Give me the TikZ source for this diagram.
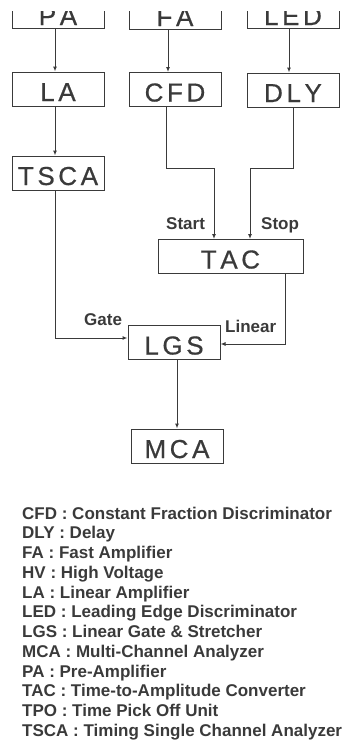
\documentclass[tikz,border=0pt]{standalone}
\usepackage{fontspec}
\setmainfont{Liberation Sans}
\newfontfamily\boxfont[WordSpace=0.5,FakeBold=0.6]{Liberation Sans}
\usetikzlibrary{positioning,arrows.meta}
\definecolor{ScanInk}{HTML}{3A3A3A}

\tikzset{
  unit/.style={
    draw=ScanInk,
    line width=1pt,
    text=ScanInk,
    minimum width=92pt,
    inner xsep=0pt,
    inner ysep=0pt,
    text height=29pt,
    text depth=5pt,
    font=\boxfont\fontsize{26}{26}\selectfont
  },
  sig/.style={draw=ScanInk, line width=1pt, -{Latex[length=5pt,width=4pt]}},
  tag/.style={text=ScanInk, inner sep=0pt, anchor=base west, font=\bfseries\fontsize{17}{17}\selectfont}
}

\begin{document}
\begin{tikzpicture}[x=1pt, y=-1pt]
  \useasboundingbox (0,0) rectangle (363,742);
  \clip (0,11) rectangle (363,742);

  \node[unit, text height=31pt, text depth=3pt] (pa) at (58,11) {P A};
  \node[unit, text height=31pt, text depth=3pt] (fa) at (175,12) {F A};
  \node[unit, text height=31pt, text depth=3pt] (led) at (293,11) {L E D};

  \node[unit] (la) at (58,89) {L A};
  \node[unit] (cfd) at (175,89.5) {C F D};
  \node[unit] (dly) at (293,90) {D L Y};
  \node[unit] (tsca) at (58,173) {T S C A};
  \node[unit, minimum width=145pt] (tac) at (230.5,256.5) {T A C};
  \node[unit] (lgs) at (174,342.5) {L G S};
  \node[unit] (mca) at (177,446) {M C A};

  \draw[sig] ([xshift=-3pt]pa.south) -- ([xshift=-3pt]la.north);
  \draw[sig] ([xshift=-7pt]fa.south) -- ([xshift=-7pt]cfd.north);
  \draw[sig] ([xshift=-4pt]led.south) -- ([xshift=-4pt]dly.north);
  \draw[sig] ([xshift=-3pt]la.south) -- ([xshift=-3pt]tsca.north);
  \draw[sig] ([xshift=-9pt]cfd.south) -- ++(0,61) -| ([xshift=-16.5pt]tac.north);
  \draw[sig] (dly.south) -- ++(0,61) -| ([xshift=19.5pt]tac.north);
  \draw[sig] ([xshift=-3pt]tsca.south) |- ([yshift=4.5pt]lgs.west);
  \draw[sig] ([xshift=54.5pt]tac.south) |- ([yshift=-1.5pt]lgs.east);
  \draw[sig] (lgs.south -| mca.north) -- (mca.north);

  \node[tag] (start) at (166,229) {Start};
  \node[tag] (stop) at (261,229) {Stop};
  \node[tag] (gate) at (84,325) {Gate};
  \node[tag] (linear) at (225,332) {Linear};

  \foreach \entry [count=\i from 0] in {
    CFD : Constant Fraction Discriminator,
    DLY : Delay,
    FA : Fast Amplifier,
    HV : High Voltage,
    LA : Linear Amplifier,
    LED : Leading Edge Discriminator,
    LGS : Linear Gate \& Stretcher,
    MCA : Multi-Channel Analyzer,
    PA : Pre-Amplifier,
    TAC : Time-to-Amplitude Converter,
    TPO : Time Pick Off Unit,
    TSCA : Timing Single Channel Analyzer}
    \node[tag] (key\i) at (22,519+19.75*\i) {\entry};
\end{tikzpicture}
\end{document}
